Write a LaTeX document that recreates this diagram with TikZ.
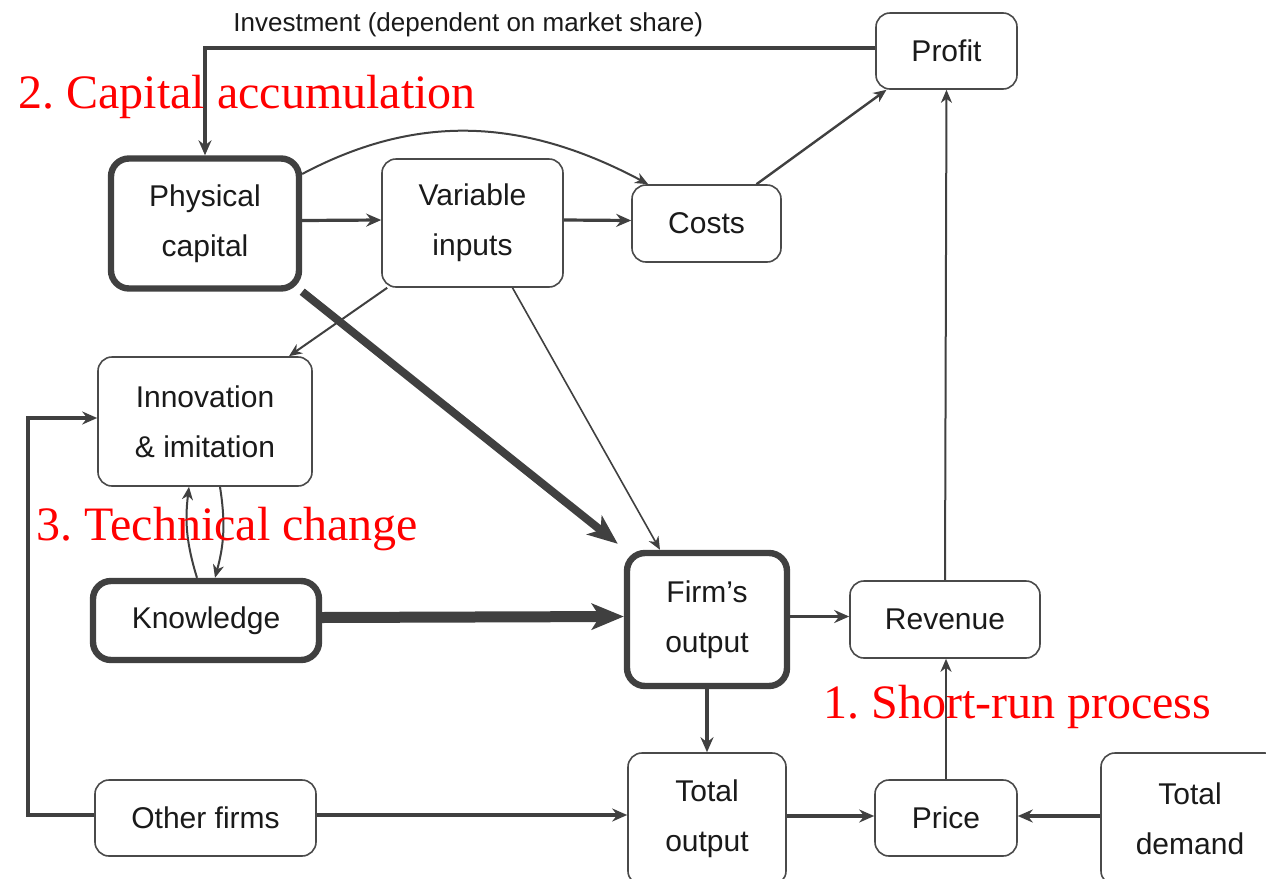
\documentclass[tikz,border=0pt]{standalone}
\usepackage{fontspec}
\setmainfont{Liberation Sans}
\newfontfamily\serifred{Liberation Serif}
\usetikzlibrary{arrows.meta}
\definecolor{ln}{HTML}{404040}
\definecolor{bx}{HTML}{4a4a4a}
\definecolor{tx}{HTML}{1a1a1a}
\frenchspacing
\begin{document}
\begin{tikzpicture}[x=0.5pt,y=-0.5pt,
 box/.style={draw=bx, line width=0.8pt, rounded corners=7pt, fill=white, inner sep=0pt, align=center, text=tx, font=\fontsize{15}{25}\selectfont},
 thickbox/.style={box, line width=3.2pt, draw=ln, rounded corners=9pt},
 conn/.style={draw=ln, line width=1pt, -{Stealth[length=6.5pt,width=5.5pt,inset=2pt]}},
 conn2/.style={draw=ln, line width=1.6pt, -{Stealth[length=7.5pt,width=6.5pt,inset=2.5pt]}},
 redlab/.style={text=red, font=\serifred\fontsize{24}{28}\selectfont, inner sep=0pt, anchor=base west},
]
\useasboundingbox (0,0) rectangle (1266,879);
\clip (0,0) rectangle (1266,879);
\fill[white] (0,0) rectangle (1266,879);

\node[box, minimum width=70.5pt, minimum height=38pt] (profit) at (946.5,51) {Profit};
\node[thickbox, minimum width=94pt, minimum height=65pt] (phys) at (205,223.5) {Physical\\capital};
\node[box, minimum width=90.5pt, minimum height=64pt] (var) at (472.5,223) {Variable\\inputs};
\node[box, minimum width=74.5pt, minimum height=38.5pt] (costs) at (706.5,223.5) {Costs};
\node[box, minimum width=107pt, minimum height=64.5pt] (innov) at (205,421.5) {Innovation\\\& imitation};
\node[thickbox, minimum width=113pt, minimum height=39.5pt] (know) at (206,620.5) {Knowledge};
\node[thickbox, minimum width=80pt, minimum height=66.5pt] (firm) at (707,619.5) {Firm’s\\output};
\node[box, minimum width=95pt, minimum height=38.5pt] (rev) at (945,619.5) {Revenue};
\node[box, minimum width=110.5pt, minimum height=38pt] (other) at (205.5,818) {Other firms};
\node[box, minimum width=79pt, minimum height=66pt] (total) at (707,819) {Total\\output};
\node[box, minimum width=71pt, minimum height=38pt] (price) at (946,818) {Price};
\node[box, minimum width=89pt, minimum height=66pt] (demand) at (1190,819) {Total\\demand};

\node[font=\fontsize{13}{15}\selectfont, text=tx, anchor=base west, inner sep=0pt] (invlab) at (233,31) {Investment (dependent on market share)};

\draw[conn2, line width=1.7pt] ([yshift=1.5pt]profit.west) -| (phys.north);
\draw[conn2] ([yshift=1.5pt]phys.east) -- ([yshift=1.5pt]var.west);
\draw[conn2] ([yshift=1.5pt]var.east) -- ([yshift=1.5pt]costs.west);
\draw[conn] (phys.27) to[out=28,in=152] (costs.146);
\draw[conn, line width=1.2pt] ([xshift=25pt]costs.north) -- ([xshift=-30pt]profit.south);
\draw[conn] (rev.north) -- (profit.south);
\draw[conn] ([xshift=3pt]var.south west) -- ([xshift=42pt]innov.north);
\draw[conn, line width=0.8pt] ([xshift=20pt]var.south) -- ([xshift=-23.5pt]firm.north);
\draw[draw=ln, line width=4pt, -{Stealth[length=15pt,width=12pt,inset=4pt]}] (phys.south east) -- ([shift={(-3pt,3pt)}]firm.north west);
\draw[draw=ln, line width=5.5pt, -{Stealth[length=16pt,width=13pt,inset=4pt]}] ([yshift=1.5pt]know.east) -- ([yshift=1.5pt]firm.west);
\draw[conn] ([xshift=-4.5pt]know.north) to[bend left=12] ([xshift=-8pt]innov.south);
\draw[conn] ([xshift=7.5pt]innov.south) to[bend left=12] ([xshift=4.5pt]know.north);
\draw[conn2] ([yshift=1.5pt]firm.east) -- ([yshift=1.5pt]rev.west);
\draw[conn2] (firm.south) -- (total.north);
\draw[conn2] ([yshift=1.5pt]other.east) -- ([yshift=1.5pt]other.east -| total.west);
\coordinate (lp) at (28,815);
\draw[conn2] ([yshift=1.5pt]other.west) -- (lp) |- ([yshift=1.75pt]innov.west);
\draw[conn2] ([yshift=1.5pt]total.east) -- ([yshift=1.5pt]total.east -| price.west);
\draw[conn2, line width=2pt] ([yshift=1.5pt]demand.west) -- ([yshift=1.5pt]demand.west -| price.east);
\draw[conn] (price.north) -- (price.north |- rev.south);

\node[redlab] (lab2) at (18,108) {2. Capital accumulation};
\node[redlab] (lab3) at (36,540) {3. Technical change};
\node[redlab] (lab1) at (823,718) {1. Short-run process};
\end{tikzpicture}
\end{document}
